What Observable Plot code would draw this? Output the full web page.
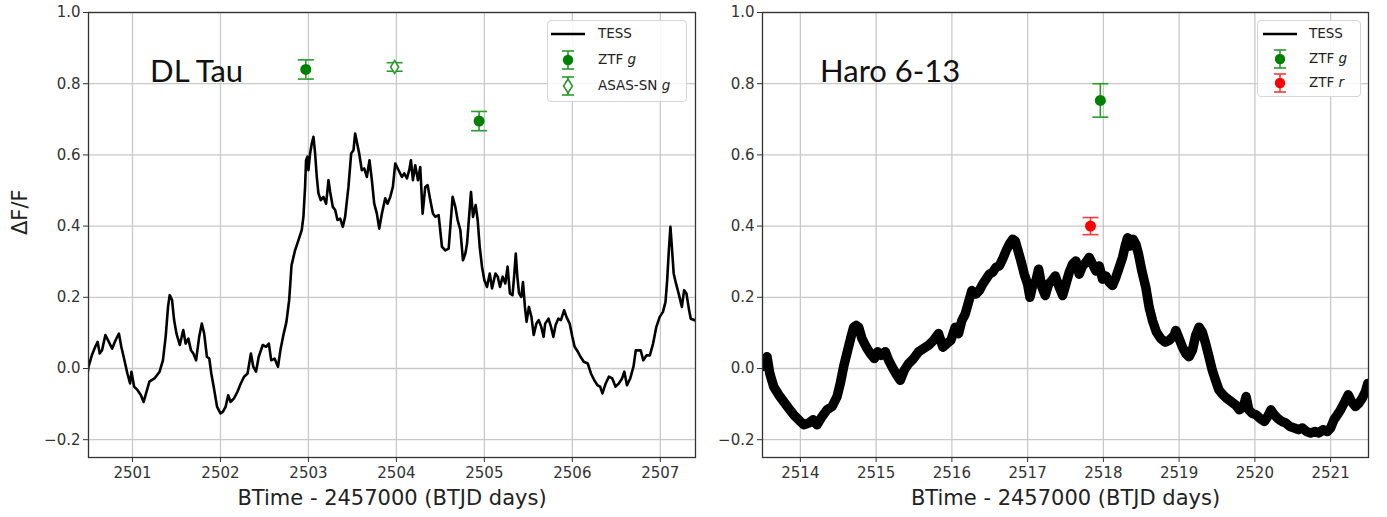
<!DOCTYPE html>
<html><head><meta charset="utf-8">
<script src="https://cdn.jsdelivr.net/npm/d3@7"></script>
<script src="https://cdn.jsdelivr.net/npm/@observablehq/plot@0.6"></script>
<style>
body{margin:0;background:#fff;}
#wrap{position:relative;width:1387px;height:517px;overflow:hidden;font-family:"DejaVu Sans",sans-serif;}
.panel{position:absolute;top:0;}
.legend{position:absolute;background:rgba(255,255,255,0.85);border:1px solid #d6d6d6;border-radius:4px;box-sizing:border-box;}
.row{position:absolute;left:0;height:24px;font-size:13.5px;color:#222;white-space:nowrap;}
.row svg{position:absolute;top:0;left:0;}
.row span{position:absolute;top:3px;}
</style></head><body><div id="wrap"></div>
<script>
// ---------- DATA ----------
const yTicks = [-0.2, 0.0, 0.2, 0.4, 0.6, 0.8, 1.0];
const xTicksDL = [2501, 2502, 2503, 2504, 2505, 2506, 2507];
const xTicksHaro = [2514, 2515, 2516, 2517, 2518, 2519, 2520, 2521];

const dlTauTime = [2500.49,2500.50,2500.538,2500.577,2500.604,2500.627,2500.654,2500.692,2500.731,2500.769,2500.808,2500.846,2500.873,2500.904,2500.942,2500.973,2500.988,2501.019,2501.058,2501.096,2501.127,2501.154,2501.192,2501.25,2501.308,2501.346,2501.377,2501.404,2501.423,2501.45,2501.473,2501.5,2501.538,2501.577,2501.604,2501.635,2501.665,2501.692,2501.723,2501.758,2501.788,2501.815,2501.846,2501.873,2501.896,2501.923,2501.962,2502.0,2502.027,2502.058,2502.088,2502.115,2502.154,2502.192,2502.231,2502.269,2502.308,2502.346,2502.373,2502.404,2502.435,2502.481,2502.519,2502.55,2502.577,2502.615,2502.654,2502.681,2502.719,2502.75,2502.781,2502.808,2502.848,2502.886,2502.924,2502.943,2502.962,2502.973,2502.989,2503.0,2503.019,2503.038,2503.057,2503.076,2503.095,2503.114,2503.140,2503.171,2503.201,2503.228,2503.247,2503.277,2503.304,2503.330,2503.361,2503.391,2503.417,2503.455,2503.486,2503.512,2503.531,2503.550,2503.577,2503.607,2503.634,2503.664,2503.694,2503.721,2503.748,2503.778,2503.805,2503.835,2503.873,2503.899,2503.930,2503.960,2503.987,2504.025,2504.063,2504.089,2504.120,2504.146,2504.165,2504.188,2504.214,2504.245,2504.271,2504.298,2504.328,2504.355,2504.385,2504.416,2504.442,2504.480,2504.518,2504.556,2504.594,2504.613,2504.639,2504.670,2504.696,2504.727,2504.757,2504.784,2504.803,2504.829,2504.848,2504.871,2504.901,2504.924,2504.947,2504.973,2505.0,2505.030,2505.061,2505.087,2505.126,2505.152,2505.178,2505.208,2505.238,2505.264,2505.290,2505.320,2505.338,2505.357,2505.375,2505.394,2505.420,2505.439,2505.461,2505.480,2505.506,2505.535,2505.561,2505.591,2505.617,2505.647,2505.673,2505.691,2505.729,2505.758,2505.784,2505.810,2505.840,2505.870,2505.907,2505.933,2505.970,2506.0,2506.026,2506.063,2506.093,2506.130,2506.175,2506.212,2506.249,2506.286,2506.316,2506.342,2506.379,2506.416,2506.454,2506.491,2506.528,2506.565,2506.591,2506.621,2506.658,2506.695,2506.721,2506.751,2506.777,2506.807,2506.844,2506.881,2506.918,2506.955,2506.993,2507.030,2507.059,2507.078,2507.097,2507.115,2507.134,2507.152,2507.178,2507.208,2507.245,2507.271,2507.297,2507.327,2507.346,2507.40];
const dlTauFlux = [-0.014,0.005,0.037,0.061,0.075,0.042,0.051,0.094,0.075,0.056,0.080,0.098,0.061,0.028,-0.014,-0.042,-0.009,-0.051,-0.061,-0.075,-0.094,-0.070,-0.037,-0.028,-0.009,0.023,0.089,0.173,0.206,0.192,0.136,0.098,0.066,0.108,0.070,0.084,0.051,0.042,0.023,0.089,0.126,0.098,0.033,0.028,-0.014,-0.051,-0.108,-0.126,-0.122,-0.108,-0.075,-0.094,-0.084,-0.066,-0.042,-0.023,-0.014,0.042,0.005,-0.009,0.033,0.066,0.061,0.070,0.023,0.028,0.005,0.051,0.098,0.131,0.192,0.29,0.332,0.36,0.389,0.426,0.51,0.585,0.595,0.557,0.604,0.632,0.651,0.604,0.538,0.492,0.473,0.482,0.463,0.529,0.496,0.454,0.445,0.417,0.421,0.398,0.426,0.51,0.604,0.613,0.660,0.637,0.604,0.557,0.562,0.538,0.585,0.529,0.463,0.435,0.393,0.435,0.478,0.463,0.482,0.51,0.576,0.557,0.538,0.548,0.534,0.557,0.585,0.529,0.571,0.529,0.566,0.435,0.510,0.515,0.473,0.435,0.426,0.431,0.342,0.332,0.337,0.398,0.482,0.454,0.417,0.389,0.304,0.323,0.351,0.435,0.496,0.426,0.459,0.417,0.342,0.286,0.248,0.229,0.267,0.225,0.267,0.258,0.229,0.258,0.239,0.286,0.211,0.206,0.258,0.323,0.258,0.211,0.201,0.243,0.173,0.131,0.173,0.145,0.094,0.126,0.136,0.117,0.089,0.126,0.140,0.117,0.089,0.122,0.140,0.136,0.164,0.145,0.126,0.089,0.061,0.047,0.033,0.019,0.014,-0.014,-0.033,-0.047,-0.051,-0.070,-0.042,-0.023,-0.028,-0.051,-0.042,-0.028,-0.009,-0.047,-0.028,0.005,0.051,0.051,0.051,0.023,0.037,0.037,0.070,0.117,0.145,0.159,0.187,0.248,0.332,0.398,0.332,0.267,0.239,0.211,0.173,0.220,0.211,0.164,0.140,0.135];

const haroTime = [2513.494,2513.525,2513.560,2513.596,2513.648,2513.714,2513.780,2513.846,2513.912,2513.978,2514.044,2514.110,2514.167,2514.220,2514.286,2514.352,2514.418,2514.484,2514.527,2514.571,2514.624,2514.668,2514.703,2514.738,2514.769,2514.813,2514.870,2514.923,2514.976,2515.020,2515.064,2515.121,2515.165,2515.222,2515.275,2515.319,2515.371,2515.429,2515.495,2515.560,2515.626,2515.692,2515.758,2515.824,2515.881,2515.934,2515.987,2516.044,2516.088,2516.132,2516.176,2516.220,2516.264,2516.319,2516.363,2516.407,2516.451,2516.495,2516.538,2516.582,2516.626,2516.670,2516.714,2516.758,2516.802,2516.837,2516.868,2516.912,2516.956,2517.0,2517.031,2517.066,2517.110,2517.145,2517.189,2517.233,2517.277,2517.321,2517.365,2517.409,2517.462,2517.505,2517.549,2517.593,2517.637,2517.681,2517.725,2517.769,2517.813,2517.857,2517.901,2517.945,2517.989,2518.033,2518.077,2518.121,2518.165,2518.209,2518.253,2518.288,2518.319,2518.354,2518.393,2518.429,2518.464,2518.508,2518.560,2518.604,2518.648,2518.701,2518.758,2518.815,2518.868,2518.934,2518.956,2519.0,2519.044,2519.088,2519.131,2519.175,2519.219,2519.263,2519.306,2519.350,2519.394,2519.438,2519.481,2519.525,2519.578,2519.630,2519.687,2519.744,2519.796,2519.849,2519.884,2519.919,2519.963,2520.015,2520.068,2520.125,2520.168,2520.212,2520.256,2520.300,2520.357,2520.409,2520.462,2520.519,2520.575,2520.628,2520.681,2520.737,2520.794,2520.847,2520.899,2520.956,2521.0,2521.044,2521.088,2521.131,2521.188,2521.232,2521.276,2521.328,2521.372,2521.416,2521.460,2521.490];
const haroFlux = [0.005,0.023,0.033,-0.014,-0.051,-0.074,-0.093,-0.112,-0.130,-0.144,-0.158,-0.153,-0.144,-0.158,-0.135,-0.116,-0.107,-0.079,-0.042,0.005,0.051,0.088,0.116,0.121,0.116,0.084,0.060,0.042,0.028,0.047,0.037,0.047,0.023,0.0,-0.019,-0.033,-0.005,0.014,0.028,0.047,0.056,0.065,0.079,0.098,0.060,0.070,0.079,0.116,0.098,0.135,0.153,0.186,0.219,0.209,0.219,0.237,0.251,0.265,0.270,0.284,0.288,0.307,0.330,0.349,0.363,0.358,0.335,0.302,0.265,0.237,0.200,0.233,0.247,0.279,0.228,0.205,0.237,0.247,0.260,0.233,0.205,0.237,0.270,0.293,0.302,0.265,0.288,0.298,0.312,0.293,0.274,0.288,0.251,0.260,0.242,0.233,0.256,0.284,0.312,0.344,0.367,0.344,0.363,0.349,0.321,0.274,0.228,0.172,0.135,0.102,0.084,0.074,0.079,0.093,0.107,0.084,0.060,0.042,0.033,0.051,0.093,0.116,0.102,0.070,0.033,-0.005,-0.033,-0.060,-0.074,-0.084,-0.093,-0.102,-0.116,-0.107,-0.079,-0.116,-0.126,-0.130,-0.140,-0.149,-0.135,-0.116,-0.130,-0.140,-0.149,-0.153,-0.163,-0.167,-0.172,-0.167,-0.177,-0.181,-0.177,-0.181,-0.172,-0.177,-0.167,-0.144,-0.130,-0.116,-0.093,-0.074,-0.093,-0.107,-0.098,-0.084,-0.065,-0.042];

// photometry points: time, dF/F, error
const dlZtfG = [{t: 2502.97, f: 0.840, e: 0.027}, {t: 2504.94, f: 0.695, e: 0.027}];
const dlAsasG = [{t: 2503.98, f: 0.847, e: 0.012}];
const haroZtfG = [{t: 2517.96, f: 0.753, e: 0.047}];
const haroZtfR = [{t: 2517.83, f: 0.400, e: 0.024}];

const dlLabel = [{text: "DL Tau", t: 2501.2, f: 0.832}];
const haroLabel = [{text: "Haro 6-13", t: 2514.26, f: 0.832}];

// ---------- DRAWING ----------
const GREEN = "#008000", GREEN_BAR = "#2a9a2a", RED = "#ff0000", RED_BAR = "#ff3a3a";
const cap = {draw(ctx, size) { const w = Math.sqrt(size / Math.PI); ctx.moveTo(-w, 0); ctx.lineTo(w, 0); }};
const openDiamond = {draw(ctx, size) { const r = Math.sqrt(size / Math.PI); ctx.moveTo(0, -r); ctx.lineTo(r * 0.62, 0); ctx.lineTo(0, r); ctx.lineTo(-r * 0.62, 0); ctx.closePath(); }};

function errMarks(pts, barColor, dotOpts) {
  return [
    Plot.ruleX(pts, {x: "t", y1: d => d.f - d.e, y2: d => d.f + d.e, stroke: barColor, strokeWidth: 1.6}),
    Plot.dot(pts, {x: "t", y: d => d.f + d.e, symbol: cap, r: 8, fill: "none", stroke: barColor, strokeWidth: 1.6}),
    Plot.dot(pts, {x: "t", y: d => d.f - d.e, symbol: cap, r: 8, fill: "none", stroke: barColor, strokeWidth: 1.6}),
    Plot.dot(pts, {x: "t", y: "f", ...dotOpts})
  ];
}

function panel(o) {
  const series = o.time.map((t, i) => ({t, f: o.flux[i]}));
  const marks = [
    Plot.gridX(o.xTicks, {stroke: "#c9c9c9", strokeOpacity: 1, strokeWidth: 1.3}),
    Plot.gridY(yTicks, {stroke: "#c9c9c9", strokeOpacity: 1, strokeWidth: 1.3}),
    Plot.line(series, {x: "t", y: "f", stroke: "#000", strokeWidth: o.lineWidth, strokeLinejoin: "round", clip: true}),
    ...o.pointMarks,
    Plot.text(o.label, {x: "t", y: "f", text: "text", textAnchor: "start", lineAnchor: "middle", fontSize: 31, fontFamily: "Lato", fill: "#111"}),
    Plot.frame({stroke: "#333", strokeWidth: 1.3}),
    Plot.axisX(o.xTicks, {tickSize: 5, tickPadding: 5, fontSize: 15, label: null, tickFormat: d => String(d), fill: "#333"}),
    Plot.axisY(yTicks, {tickSize: 5, tickPadding: 3, fontSize: 15, label: null, tickFormat: d3.format(".1f"), fill: "#333"}),
    Plot.text(["BTime - 2457000 (BTJD days)"], {frameAnchor: "bottom", dy: 41, lineAnchor: "middle", fontSize: 21, fill: "#222"})
  ];
  if (o.yLabel) marks.push(Plot.text(["ΔF/F"], {frameAnchor: "left", rotate: -90, dx: -68, fontSize: 21, fill: "#222"}));
  return Plot.plot({
    width: o.width, height: 517,
    marginLeft: o.marginLeft, marginRight: o.marginRight, marginTop: 12, marginBottom: 60,
    style: {fontFamily: "DejaVu Sans, sans-serif", background: "transparent", color: "#333", overflow: "visible"},
    x: {domain: o.xDomain, label: null},
    y: {domain: [-0.25, 1.0], label: null},
    marks
  });
}

const wrap = document.getElementById("wrap");

const left = panel({
  time: dlTauTime, flux: dlTauFlux, lineWidth: 2.6, xDomain: [2500.5, 2507.4], xTicks: xTicksDL,
  label: dlLabel, yLabel: true, width: 705, marginLeft: 88, marginRight: 10,
  pointMarks: [
    ...errMarks(dlZtfG, GREEN_BAR, {r: 5.5, fill: GREEN, stroke: "none"}),
    ...errMarks(dlAsasG, GREEN_BAR, {r: 6.5, symbol: openDiamond, fill: "#fff", stroke: GREEN_BAR, strokeWidth: 1.6})
  ]
});
left.classList.add("panel"); left.style.left = "0px";
wrap.appendChild(left);

const right = panel({
  time: haroTime, flux: haroFlux, lineWidth: 9.5, xDomain: [2513.5, 2521.5], xTicks: xTicksHaro,
  label: haroLabel, yLabel: false, width: 682, marginLeft: 57, marginRight: 19,
  pointMarks: [
    ...errMarks(haroZtfG, GREEN_BAR, {r: 5.5, fill: GREEN, stroke: "none"}),
    ...errMarks(haroZtfR, RED_BAR, {r: 5.5, fill: RED, stroke: "none"})
  ]
});
right.classList.add("panel"); right.style.left = "705px";
wrap.appendChild(right);

// ---------- LEGENDS ----------
function handle(kind, color, barColor, cx) {
  const cy = 12;
  if (kind === "line") return `<line x1="${cx-17}" x2="${cx+17}" y1="${cy}" y2="${cy}" stroke="#000" stroke-width="2.6"/>`;
  let s = `<line x1="${cx}" x2="${cx}" y1="${cy-9}" y2="${cy+9}" stroke="${barColor}" stroke-width="1.6"/>`
        + `<line x1="${cx-6}" x2="${cx+6}" y1="${cy-9}" y2="${cy-9}" stroke="${barColor}" stroke-width="1.6"/>`
        + `<line x1="${cx-6}" x2="${cx+6}" y1="${cy+9}" y2="${cy+9}" stroke="${barColor}" stroke-width="1.6"/>`;
  if (kind === "dot") s += `<circle cx="${cx}" cy="${cy}" r="5.2" fill="${color}"/>`;
  else s += `<path d="M${cx},${cy-7} L${cx+4.4},${cy} L${cx},${cy+7} L${cx-4.4},${cy} Z" fill="#fff" stroke="${barColor}" stroke-width="1.6"/>`;
  return s;
}
function legend(box, items) {
  const d = document.createElement("div");
  d.className = "legend";
  Object.assign(d.style, {left: box.x + "px", top: box.y + "px", width: box.w + "px", height: box.h + "px"});
  items.forEach((it, i) => {
    const r = document.createElement("div");
    r.className = "row";
    r.style.top = (box.rows[i] - 12) + "px";
    r.innerHTML = `<svg width="60" height="24">${handle(it.kind, it.color, it.bar, box.hx)}</svg><span style="left:${box.tx}px">${it.html}</span>`;
    d.appendChild(r);
  });
  wrap.appendChild(d);
}
legend({x: 547, y: 20, w: 140, h: 82, rows: [13, 39, 65], hx: 20, tx: 50}, [
  {kind: "line", html: "TESS"},
  {kind: "dot", color: GREEN, bar: GREEN_BAR, html: "ZTF <i>g</i>"},
  {kind: "diamond", color: GREEN, bar: GREEN_BAR, html: "ASAS-SN <i>g</i>"}
]);
legend({x: 1257, y: 20, w: 104, h: 77, rows: [13, 38, 62], hx: 22, tx: 51}, [
  {kind: "line", html: "TESS"},
  {kind: "dot", color: GREEN, bar: GREEN_BAR, html: "ZTF <i>g</i>"},
  {kind: "dot", color: RED, bar: RED_BAR, html: "ZTF <i>r</i>"}
]);
</script>
</body></html>
